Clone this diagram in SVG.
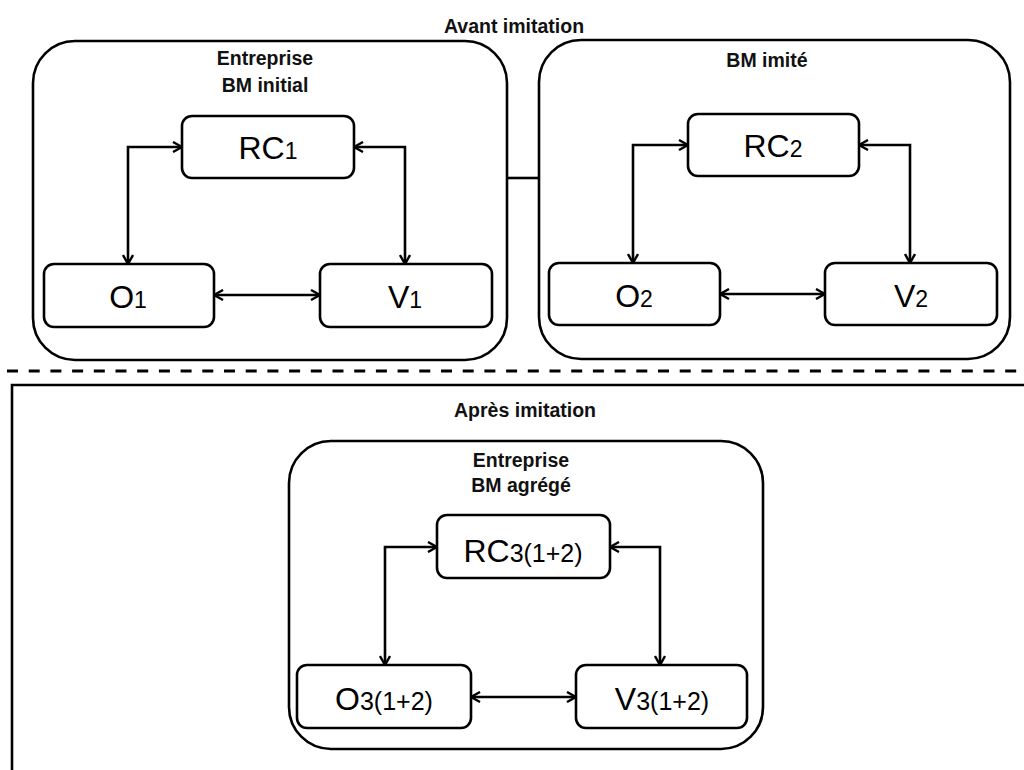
<svg xmlns="http://www.w3.org/2000/svg" width="1024" height="770" viewBox="0 0 1024 770">
<defs>
<marker id="arr" viewBox="0 0 12 12" refX="11" refY="6" markerWidth="12" markerHeight="12" markerUnits="userSpaceOnUse" orient="auto-start-reverse">
<path d="M2,1 L11,6 L2,11" fill="none" stroke="#000" stroke-width="2.4" stroke-linejoin="miter"/>
</marker>
<style>
.frame{fill:none;stroke:#000;stroke-width:2.6}
.node{fill:#fff;stroke:#000;stroke-width:2.6}
.conn{fill:none;stroke:#000;stroke-width:2.6;marker-start:url(#arr);marker-end:url(#arr)}
.title{font-family:"Liberation Sans",Arial,sans-serif;font-weight:bold;font-size:19.5px;fill:#111;text-anchor:middle}
.lbl{font-family:"Liberation Sans",Arial,sans-serif;font-size:32px;fill:#000;text-anchor:middle}
.sub{font-size:23px}
.sub3{font-size:25px}
</style>
</defs>
<rect width="1024" height="770" fill="#fff"/>

<text class="title" x="514" y="33">Avant imitation</text>

<g id="bm-initial">
<rect class="frame" x="33" y="41" width="474" height="319" rx="42"/>
<text class="title" x="265" y="65">Entreprise</text>
<text class="title" x="265" y="92">BM initial</text>
</g>
<g id="bm-imite">
<rect class="frame" x="539" y="40" width="471" height="319" rx="42"/>
<text class="title" x="767" y="67">BM imité</text>
</g>
<line x1="507" y1="178" x2="539" y2="178" stroke="#000" stroke-width="2.6"/>

<line x1="7" y1="371" x2="1024" y2="371" stroke="#000" stroke-width="3" stroke-dasharray="11 10.7"/>

<g id="apres">
<path class="frame" d="M12,770 V385 H1024"/>
<text class="title" x="525" y="417">Après imitation</text>
</g>
<g id="bm-agrege">
<rect class="frame" x="289" y="441" width="474" height="308" rx="42"/>
<text class="title" x="521" y="467">Entreprise</text>
<text class="title" x="521" y="492">BM agrégé</text>
</g>

<g id="connectors">
<path class="conn" d="M182,147 H128 V264"/>
<path class="conn" d="M354,147 H405 V264"/>
<path class="conn" d="M214,295 H320"/>
<path class="conn" d="M688,145 H633 V263"/>
<path class="conn" d="M859,145 H910 V263"/>
<path class="conn" d="M720,294 H825"/>
<path class="conn" d="M437,547 H385 V665"/>
<path class="conn" d="M610,547 H660 V665"/>
<path class="conn" d="M471,697 H576"/>
</g>

<g id="RC1">
<rect class="node" x="182" y="116" width="172" height="62" rx="10"/>
<text class="lbl" x="268" y="159">RC<tspan class="sub">1</tspan></text>
</g>
<g id="O1">
<rect class="node" x="44" y="264" width="170" height="63" rx="10"/>
<text class="lbl" x="128" y="308">O<tspan class="sub">1</tspan></text>
</g>
<g id="V1">
<rect class="node" x="320" y="264" width="172" height="63" rx="10"/>
<text class="lbl" x="405" y="308">V<tspan class="sub">1</tspan></text>
</g>

<g id="RC2">
<rect class="node" x="688" y="114" width="171" height="62" rx="10"/>
<text class="lbl" x="773" y="157">RC<tspan class="sub">2</tspan></text>
</g>
<g id="O2">
<rect class="node" x="549" y="263" width="171" height="62" rx="10"/>
<text class="lbl" x="634" y="307">O<tspan class="sub">2</tspan></text>
</g>
<g id="V2">
<rect class="node" x="825" y="263" width="172" height="62" rx="10"/>
<text class="lbl" x="911" y="307">V<tspan class="sub">2</tspan></text>
</g>

<g id="RC3">
<rect class="node" x="437" y="515" width="173" height="63" rx="10"/>
<text class="lbl" x="523" y="562">RC<tspan class="sub3">3(1+2)</tspan></text>
</g>
<g id="O3">
<rect class="node" x="297" y="665" width="174" height="63" rx="10"/>
<text class="lbl" x="384" y="710">O<tspan class="sub3">3(1+2)</tspan></text>
</g>
<g id="V3">
<rect class="node" x="576" y="665" width="171" height="63" rx="10"/>
<text class="lbl" x="662" y="710">V<tspan class="sub3">3(1+2)</tspan></text>
</g>
</svg>
